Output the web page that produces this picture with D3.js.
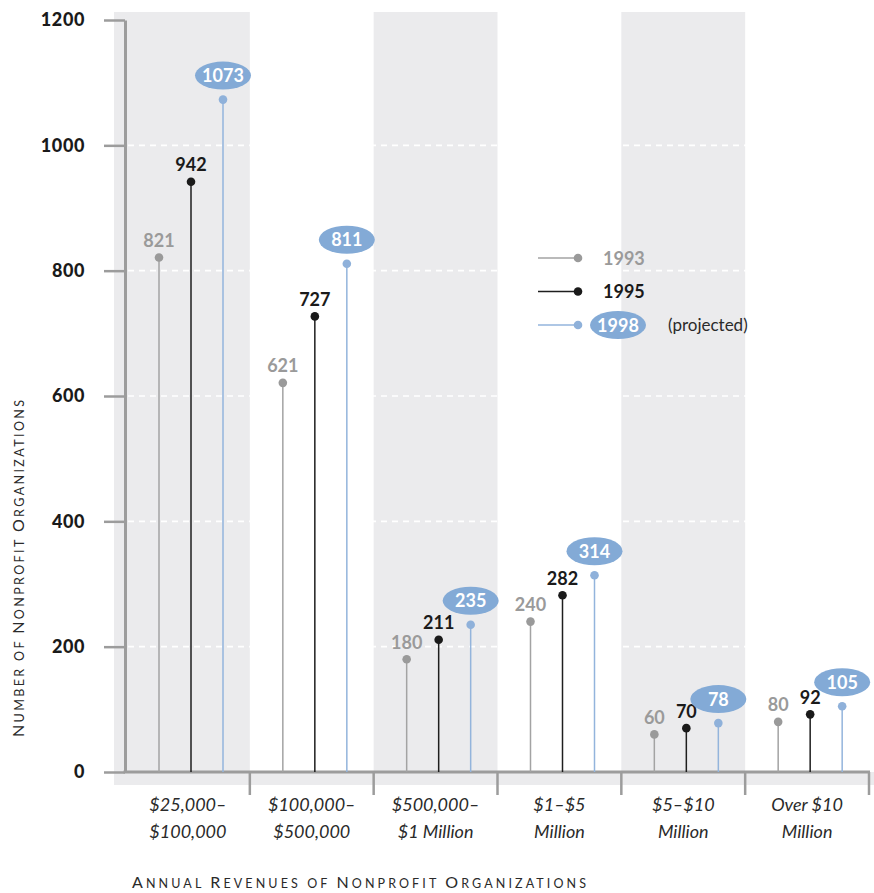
<!DOCTYPE html>
<html>
<head>
<meta charset="utf-8">
<script src="https://cdn.jsdelivr.net/npm/d3@7"></script>
<style>
  html, body { margin: 0; padding: 0; background: #fff; }
  svg { display: block; font-family: "Lato", "Open Sans", sans-serif; }
</style>
</head>
<body>
<svg id="chart" width="874" height="893"></svg>
<script>
// Revenue brackets (two-line labels)
const categories = [
  ["$25,000–", "$100,000"],
  ["$100,000–", "$500,000"],
  ["$500,000–", "$1 Million"],
  ["$1–$5", "Million"],
  ["$5–$10", "Million"],
  ["Over $10", "Million"]
];
const years = ["1993", "1995", "1998"];
const values1993 = [821, 621, 180, 240, 60, 80];
const values1995 = [942, 727, 211, 282, 70, 92];
const values1998 = [1073, 811, 235, 314, 78, 105];
const yTicks = [0, 200, 400, 600, 800, 1000, 1200];

const seriesValues = { "1993": values1993, "1995": values1995, "1998": values1998 };
const colors = {
  "1993": { stem: "#a3a3a3", dot: "#9a9a9a", text: "#9a9a9a" },
  "1995": { stem: "#1e1e1e", dot: "#1a1a1a", text: "#1a1a1a" },
  "1998": { stem: "#93b4dc", dot: "#8fb1da", text: "#ffffff" }
};
const bubble = "#83aad6";
const axisGray = "#9c9c9c";
const bandGray = "#ebebed";

const svg = d3.select("#chart");
const catKeys = categories.map(c => c.join(" "));

const y = d3.scaleLinear().domain([0, 1200]).range([772, 20]);
const x = d3.scaleBand().domain(catKeys).range([126, 869]).padding(0);
const xs = d3.scalePoint().domain(years).range([33, 97]);

// alternating shaded columns
const bands = svg.append("g");
catKeys.forEach((k, i) => {
  if (i % 2 !== 0) return;
  const x0 = i === 0 ? 114 : x(k);
  bands.append("rect")
    .attr("x", x0).attr("y", 12)
    .attr("width", x(k) + x.bandwidth() - x0)
    .attr("height", 772 - 12)
    .attr("fill", bandGray);
});
// strip below the baseline
bands.append("rect")
  .attr("x", 114).attr("y", 772)
  .attr("width", 874 - 114).attr("height", 13)
  .attr("fill", bandGray);

// dashed white gridlines
svg.append("g").selectAll("line")
  .data(yTicks.filter(t => t > 0 && t < 1200))
  .join("line")
  .attr("x1", 128).attr("x2", 870)
  .attr("y1", d => y(d)).attr("y2", d => y(d))
  .attr("stroke", "#fff").attr("stroke-width", 1.6)
  .attr("stroke-dasharray", "6,5");

// y axis
const yAxis = svg.append("g")
  .attr("transform", "translate(125,0)")
  .call(d3.axisLeft(y).tickValues(yTicks).tickFormat(d3.format("d"))
    .tickSize(21).tickSizeOuter(0).tickPadding(19));
yAxis.select(".domain").attr("stroke", axisGray).attr("stroke-width", 3);
yAxis.selectAll(".tick line").attr("stroke", axisGray).attr("stroke-width", 2.5);
yAxis.selectAll(".tick text")
  .attr("font-family", "Lato, sans-serif")
  .attr("font-size", 18).attr("font-weight", 900).attr("fill", "#1a1a1a")
  .attr("letter-spacing", 0.6);

// x axis baseline and bracket separators
const xg = svg.append("g");
xg.append("line")
  .attr("x1", 123.5).attr("x2", 870)
  .attr("y1", 772).attr("y2", 772)
  .attr("stroke", axisGray).attr("stroke-width", 3);
xg.selectAll("line.sep")
  .data(catKeys)
  .join("line")
  .attr("class", "sep")
  .attr("x1", d => x(d) + x.bandwidth()).attr("x2", d => x(d) + x.bandwidth())
  .attr("y1", 772).attr("y2", 795)
  .attr("stroke", axisGray).attr("stroke-width", 2.5);

// category labels
const xAxis = svg.append("g")
  .attr("transform", "translate(0,772)")
  .call(d3.axisBottom(x).tickSize(0).tickFormat(""));
xAxis.select(".domain").remove();
xAxis.selectAll(".tick").each(function(d, i) {
  const t = d3.select(this).append("text")
    .attr("text-anchor", "middle")
    .attr("font-family", "Lato, sans-serif")
    .attr("font-style", "italic")
    .attr("font-size", 18)
    .attr("fill", "#2a2a2a");
  categories[i].forEach((line, j) => {
    t.append("tspan").attr("x", 0).attr("y", 39 + j * 27).text(line);
  });
});

// lollipops
const marks = svg.append("g");
years.forEach(yr => {
  const c = colors[yr];
  const g = marks.append("g");
  const data = seriesValues[yr].map((v, i) => ({ k: catKeys[i], v }));
  g.selectAll("line").data(data).join("line")
    .attr("x1", d => x(d.k) + xs(yr)).attr("x2", d => x(d.k) + xs(yr))
    .attr("y1", y(0)).attr("y2", d => y(d.v))
    .attr("stroke", c.stem).attr("stroke-width", 1.5);
  g.selectAll("circle").data(data).join("circle")
    .attr("cx", d => x(d.k) + xs(yr)).attr("cy", d => y(d.v))
    .attr("r", 4.3).attr("fill", c.dot);
  if (yr === "1998") {
    g.selectAll("ellipse").data(data).join("ellipse")
      .attr("cx", d => x(d.k) + xs(yr)).attr("cy", d => y(d.v) - 24)
      .attr("rx", 28).attr("ry", 14).attr("fill", bubble);
    g.selectAll("text").data(data).join("text")
      .attr("x", d => x(d.k) + xs(yr)).attr("y", d => y(d.v) - 17.5)
      .attr("text-anchor", "middle")
      .attr("font-size", 18).attr("font-weight", 700).attr("fill", c.text)
      .text(d => d.v);
  } else {
    g.selectAll("text").data(data).join("text")
      .attr("x", d => x(d.k) + xs(yr)).attr("y", d => y(d.v) - 10.5)
      .attr("text-anchor", "middle")
      .attr("font-size", 18).attr("font-weight", 700).attr("fill", c.text)
      .text(d => d.v);
  }
});

// legend
const legend = svg.append("g");
years.forEach((yr, i) => {
  const c = colors[yr];
  const ly = 258 + i * 33.5;
  legend.append("line")
    .attr("x1", 538).attr("x2", 578).attr("y1", ly).attr("y2", ly)
    .attr("stroke", c.stem).attr("stroke-width", 1.5);
  legend.append("circle").attr("cx", 578).attr("cy", ly).attr("r", 4.3).attr("fill", c.dot);
  if (yr === "1998") {
    legend.append("ellipse").attr("cx", 618).attr("cy", ly).attr("rx", 28).attr("ry", 14).attr("fill", bubble);
    legend.append("text").attr("x", 618).attr("y", ly + 6.5).attr("text-anchor", "middle")
      .attr("font-size", 18).attr("font-weight", 700).attr("fill", "#fff").text(yr);
    legend.append("text").attr("x", 668).attr("y", ly + 6)
      .attr("font-size", 17).attr("fill", "#2a2a2a").text("(projected)");
  } else {
    legend.append("text").attr("x", 603).attr("y", ly + 6.5)
      .attr("font-size", 18).attr("font-weight", 700).attr("fill", c.text).text(yr);
  }
});

// small-caps title: capitals full size, other letters uppercased and smaller
function smallCaps(sel, str, big, small) {
  str.split(" ").forEach((word, wi) => {
    if (wi > 0) sel.append("tspan").attr("font-size", small).text(" ");
    const isCap = word[0] === word[0].toUpperCase();
    sel.append("tspan").attr("font-size", isCap ? big : small).text(word[0].toUpperCase());
    if (word.length > 1) sel.append("tspan").attr("font-size", small).text(word.slice(1).toUpperCase());
  });
}

const yTitle = svg.append("text")
  .attr("transform", "translate(24,568.5) rotate(-90)")
  .attr("text-anchor", "middle")
  .attr("fill", "#2a2a2a")
  .attr("textLength", 337).attr("lengthAdjust", "spacing");
smallCaps(yTitle, "Number of Nonprofit Organizations", 16, 12.5);

const xTitle = svg.append("text")
  .attr("x", 132).attr("y", 888)
  .attr("fill", "#2a2a2a")
  .attr("textLength", 454).attr("lengthAdjust", "spacing");
smallCaps(xTitle, "Annual Revenues of Nonprofit Organizations", 16, 12.5);
</script>
</body>
</html>
